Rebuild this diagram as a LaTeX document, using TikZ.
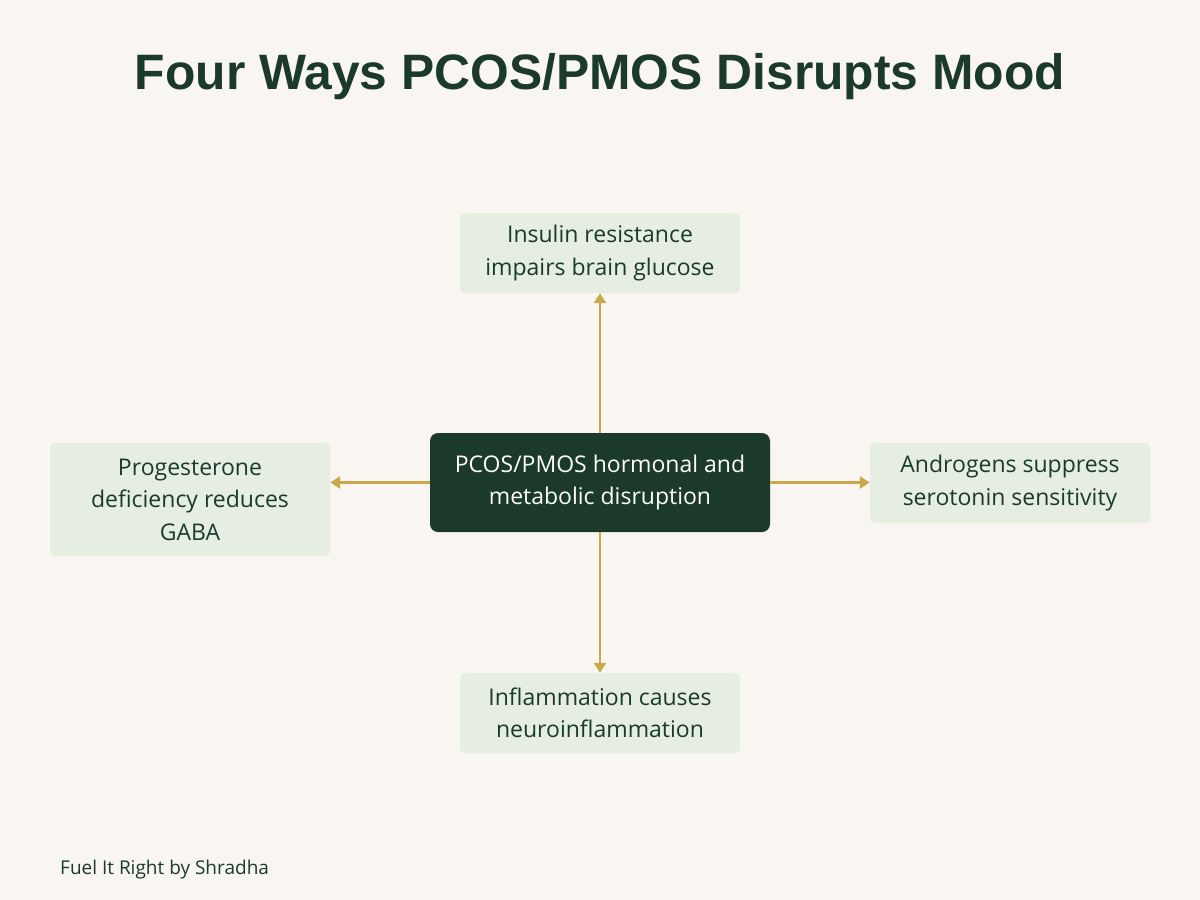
\documentclass[tikz,border=0pt]{standalone}
\usepackage{fontspec}
\setmainfont{Open Sans}
\newfontfamily\titlefont{Liberation Sans}
\usetikzlibrary{arrows.meta}
\definecolor{bg}{HTML}{F9F6F1}
\definecolor{boxfill}{HTML}{E6EEE2}
\definecolor{darkgreen}{HTML}{1B3A2A}
\definecolor{gold}{HTML}{C9A94B}
\tikzset{
  leaf/.style={fill=boxfill, rounded corners=5pt, minimum width=280pt, inner sep=0pt,
    text=darkgreen, align=center, font=\fontsize{23}{32.5}\selectfont},
  hub/.style={fill=darkgreen, rounded corners=8pt, minimum width=340pt, minimum height=99pt,
    inner sep=0pt, text=white, align=center, font=\fontsize{23}{32.5}\selectfont},
  link/.style={draw=gold, line width=2.5pt, -{Triangle[length=10pt,width=12pt]}}
}
\begin{document}
\begin{tikzpicture}[x=1pt,y=-1pt]
\fill[bg] (0,0) rectangle (1200,900);
\useasboundingbox (0,0) rectangle (1200,900);
\node[text=darkgreen, inner sep=0pt] (title) at (600,77)
  {\resizebox{930pt}{!}{\titlefont\bfseries\fontsize{44}{50}\selectfont Four Ways PCOS/PMOS Disrupts Mood}};
\node[hub] (center) at (600,482.5) {PCOS/PMOS hormonal and\\metabolic disruption};
\node[leaf, minimum height=80pt] (top) at (600,253) {Insulin resistance\\impairs brain glucose};
\node[leaf, minimum height=113pt] (left) at (190,499.5) {Progesterone\\deficiency reduces\\GABA};
\node[leaf, minimum height=80pt] (right) at (1010,483) {Androgens suppress\\serotonin sensitivity};
\node[leaf, minimum height=80pt] (bottom) at (600,713) {Inflammation causes\\neuroinflammation};
\draw[link] (center.north) -- (top.south);
\draw[link] (center.south) -- (bottom.north);
\draw[link] (center.west) -- (center.west -| left.east);
\draw[link] (center.east) -- (center.east -| right.west);
\node[anchor=west, text=darkgreen, inner sep=0pt, font=\fontsize{19}{22}\selectfont] (footer) at (60,870) {Fuel It Right by Shradha};
\end{tikzpicture}
\end{document}
